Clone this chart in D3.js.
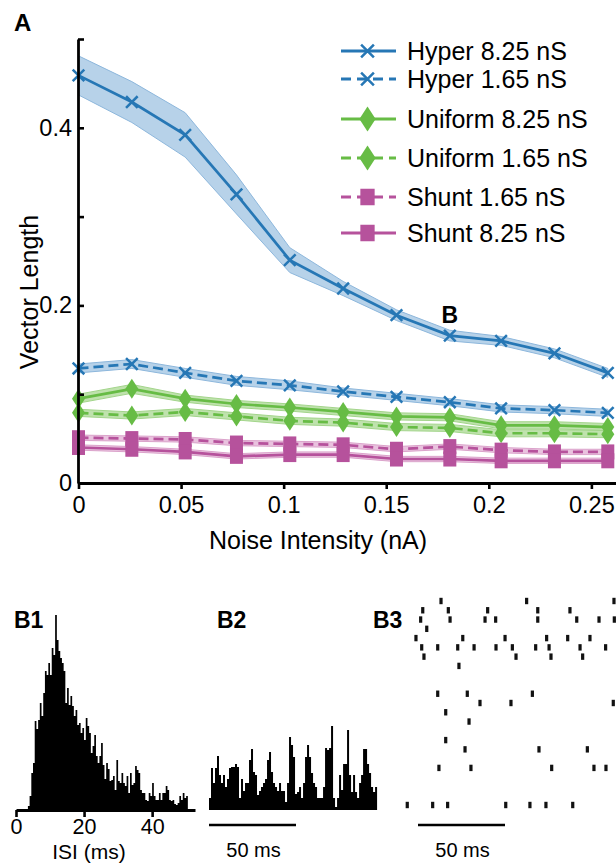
<!DOCTYPE html>
<html>
<head>
<meta charset="utf-8">
<script src="https://cdn.jsdelivr.net/npm/d3@7"></script>
<style>
  html, body { margin: 0; padding: 0; background: #fff; }
  svg { display: block; }
  text { font-family: "Liberation Sans", Arial, Helvetica, sans-serif; fill: #000; }
</style>
</head>
<body>
<svg id="fig" width="616" height="864"></svg>
<script>
// ---------- Panel A: vector strength vs noise ----------
const noise = [0, 0.026, 0.052, 0.077, 0.103, 0.129, 0.155, 0.181, 0.206, 0.232, 0.258];

const hyper825    = [0.459, 0.429, 0.392, 0.325, 0.251, 0.219, 0.189, 0.166, 0.160, 0.146, 0.124];
const hyper825Err = [0.022, 0.023, 0.025, 0.022, 0.014, 0.008, 0.006, 0.006, 0.005, 0.005, 0.005];
const hyper165    = [0.129, 0.134, 0.124, 0.115, 0.110, 0.103, 0.097, 0.091, 0.084, 0.082, 0.079];
const hyper165Err = [0.005, 0.005, 0.005, 0.005, 0.005, 0.004, 0.004, 0.004, 0.004, 0.004, 0.004];
const uniform825    = [0.095, 0.106, 0.095, 0.089, 0.085, 0.080, 0.075, 0.074, 0.065, 0.065, 0.063];
const uniform825Err = [0.005, 0.005, 0.004, 0.004, 0.004, 0.004, 0.004, 0.004, 0.004, 0.004, 0.004];
const uniform165    = [0.079, 0.076, 0.080, 0.075, 0.070, 0.068, 0.063, 0.062, 0.056, 0.056, 0.055];
const uniform165Err = [0.004, 0.004, 0.004, 0.004, 0.004, 0.004, 0.004, 0.004, 0.004, 0.004, 0.004];
const shunt165    = [0.051, 0.050, 0.049, 0.045, 0.044, 0.043, 0.038, 0.041, 0.037, 0.035, 0.035];
const shunt165Err = [0.003, 0.003, 0.003, 0.003, 0.003, 0.003, 0.003, 0.003, 0.003, 0.003, 0.003];
const shunt825    = [0.040, 0.038, 0.035, 0.030, 0.032, 0.032, 0.027, 0.027, 0.025, 0.025, 0.025];
const shunt825Err = [0.003, 0.003, 0.003, 0.003, 0.003, 0.003, 0.003, 0.003, 0.003, 0.003, 0.003];

const seriesNames = ["Hyper 8.25 nS", "Hyper 1.65 nS", "Uniform 8.25 nS", "Uniform 1.65 nS", "Shunt 1.65 nS", "Shunt 8.25 nS"];

const xTickValues = [0, 0.05, 0.1, 0.15, 0.2, 0.25];
const xTickLabels = ["0", "0.05", "0.1", "0.15", "0.2", "0.25"];
const yTickValues = [0, 0.1, 0.2, 0.3, 0.4, 0.5];
const yTickLabels = ["0", "", "0.2", "", "0.4", ""];

// ---------- Panel B1: ISI histogram (0.5 ms bins starting at 3.5 ms) ----------
const isiStart = 3.5;
const isiBin = 0.5;
const isiCounts = [3, 13, 36, 46, 88, 80, 89, 106, 93, 116, 138, 134, 146, 134, 161, 154, 194, 169, 158, 151,
  146, 138, 106, 121, 104, 113, 103, 93, 99, 84, 86, 76, 81, 69, 91, 83, 76, 56, 63, 74,
  53, 46, 53, 66, 44, 30, 46, 40, 28, 29, 33, 19, 49, 28, 26, 36, 26, 23, 33, 16,
  36, 24, 26, 43, 39, 36, 19, 16, 16, 9, 8, 16, 13, 26, 13, 9, 9, 16, 9, 16,
  16, 23, 19, 9, 8, 9, 5, 4, 6, 13, 9, 16, 11, 13];
const isiTicks = [0, 20, 40];

// ---------- Panel B2: spike-time histogram (1.15 ms bins) ----------
const psthBin = 1.15;
const psthCounts = [12, 42, 27, 42, 54, 35, 27, 35, 23, 31, 42, 43, 43, 46, 43, 12, 31, 19, 27, 27,
  50, 61, 38, 35, 15, 19, 23, 27, 31, 50, 58, 38, 27, 23, 19, 27, 19, 19, 8, 27,
  73, 65, 53, 16, 18, 23, 12, 27, 53, 65, 53, 37, 27, 23, 12, 12, 12, 23, 62, 60,
  62, 84, 12, 3, 12, 35, 20, 46, 46, 80, 35, 18, 35, 18, 12, 27, 35, 61, 61, 46,
  37, 23, 18, 23];

// ---------- Panel B3: spike raster (one row per trial, spike times in ms) ----------
const rasterTrials = [
  [20.7, 69.9, 120.1],
  [10.2, 24.9, 47.5, 76.3, 94.8],
  [9.0, 25.9, 46.0, 52.1, 76.3, 98.7, 111.5, 120.3],
  [12.5],
  [6.3, 33.2, 57.5, 81.4, 93.5, 106.3],
  [9.6, 18.8, 30.3, 39.7, 52.3, 61.7, 75.1, 82.8, 100.6, 115.3],
  [10.9, 63.8, 83.9, 102.1],
  [31.0],
  [],
  [],
  [18.8, 35.8, 73.2],
  [43.1, 60.9, 119.7],
  [23.4],
  [36.8],
  [],
  [23.4],
  [34.5, 77.0, 104.8],
  [],
  [19.5, 37.9, 84.3, 108.6, 115.5],
  [],
  [],
  [],
  [1.3, 15.9, 24.5, 57.9, 71.8, 81.0, 96.4]
];

const svg = d3.select("#fig");

const blue = "#2677b5", blueBand = "#b7d2e9", blueEdge = "#8db7dc";
const green = "#67bc45", greenBand = "#bfe2ad", greenEdge = "#a3d58b";
const pink = "#b6529c", pinkBand = "#e9c2de", pinkEdge = "#dba3cb";

const series = [
  { name: seriesNames[0], v: hyper825,   e: hyper825Err,   c: blue,  band: blueBand,  edge: blueEdge,  dash: null,  m: "x" },
  { name: seriesNames[1], v: hyper165,   e: hyper165Err,   c: blue,  band: blueBand,  edge: blueEdge,  dash: "10,5", m: "x" },
  { name: seriesNames[2], v: uniform825, e: uniform825Err, c: green, band: greenBand, edge: greenEdge, dash: null,  m: "d" },
  { name: seriesNames[3], v: uniform165, e: uniform165Err, c: green, band: greenBand, edge: greenEdge, dash: "10,5", m: "d" },
  { name: seriesNames[4], v: shunt165,   e: shunt165Err,   c: pink,  band: pinkBand,  edge: pinkEdge,  dash: "10,5", m: "s" },
  { name: seriesNames[5], v: shunt825,   e: shunt825Err,   c: pink,  band: pinkBand,  edge: pinkEdge,  dash: null,  m: "s" }
];

const x = d3.scaleLinear().domain([0, 0.262]).range([78.5, 616]);
const y = d3.scaleLinear().domain([0, 0.5]).range([483, 39]);

const gA = svg.append("g");

// confidence bands
const area = d3.area().x((d, i) => x(noise[i])).y0(d => y(d[0] - d[1])).y1(d => y(d[0] + d[1]));
const line = d3.line().x((d, i) => x(noise[i])).y(d => y(d));

series.forEach(s => {
  const pts = s.v.map((v, i) => [v, s.e[i]]);
  gA.append("path").attr("d", area(pts))
    .attr("fill", s.band).attr("stroke", s.edge).attr("stroke-width", 1);
});
series.forEach(s => {
  gA.append("path").attr("d", line(s.v))
    .attr("fill", "none").attr("stroke", s.c).attr("stroke-width", 2.7)
    .attr("stroke-dasharray", s.dash);
});

function drawMarker(g, type, cx, cy, color, scale) {
  const k = scale || 1;
  if (type === "x") {
    const r = 5.8 * k;
    g.append("path")
      .attr("d", `M${cx - r},${cy - r}L${cx + r},${cy + r}M${cx - r},${cy + r}L${cx + r},${cy - r}`)
      .attr("stroke", color).attr("stroke-width", 2.5).attr("fill", "none");
  } else if (type === "d") {
    const w = 6.5 * k, h = 10 * k;
    g.append("path")
      .attr("d", `M${cx},${cy - h}L${cx + w},${cy}L${cx},${cy + h}L${cx - w},${cy}Z`)
      .attr("fill", color);
  } else {
    const w = 13 * k, h = 15 * k;
    g.append("rect").attr("x", cx - w / 2).attr("y", cy - h / 2)
      .attr("width", w).attr("height", h).attr("fill", color);
  }
}

series.forEach(s => {
  s.v.forEach((v, i) => drawMarker(gA, s.m, x(noise[i]), y(v), s.c));
});

// axes
const yAxis = d3.axisLeft(y).tickValues(yTickValues)
  .tickFormat((d, i) => yTickLabels[i]).tickSizeInner(-6).tickSizeOuter(0).tickPadding(6);
const gy = gA.append("g").attr("transform", "translate(78,0)").call(yAxis);
gy.select(".domain").attr("stroke-width", 2.8);
gy.selectAll(".tick line").attr("stroke-width", 2.6);
gy.selectAll(".tick text").attr("font-size", 23.5).attr("font-family", "Liberation Sans, Arial, sans-serif");

const xAxis = d3.axisBottom(x).tickValues(xTickValues)
  .tickFormat((d, i) => xTickLabels[i]).tickSizeInner(6).tickSizeOuter(0).tickPadding(7);
const gx = gA.append("g").attr("transform", "translate(0,483)").call(xAxis);
gx.select(".domain").attr("stroke-width", 2.8);
gx.selectAll(".tick line").attr("stroke-width", 2.6);
gx.selectAll(".tick text").attr("font-size", 23.5).attr("font-family", "Liberation Sans, Arial, sans-serif");

gA.append("text").attr("x", 318).attr("y", 549).attr("text-anchor", "middle")
  .attr("font-size", 25).text("Noise Intensity (nA)");
gA.append("text").attr("transform", "translate(38,292) rotate(-90)").attr("text-anchor", "middle")
  .attr("font-size", 25).text("Vector Length");

// legend
const legendY = [51, 79, 119, 158, 197, 233];
const gL = svg.append("g");
series.forEach((s, i) => {
  const ly = legendY[i];
  gL.append("line").attr("x1", 341).attr("x2", 396).attr("y1", ly).attr("y2", ly)
    .attr("stroke", s.c).attr("stroke-width", 2.8).attr("stroke-dasharray", s.dash ? "10,6" : null);
  drawMarker(gL, s.m, 367.5, ly, s.c, s.m === "d" ? 1.25 : 1.1);
  gL.append("text").attr("x", 407).attr("y", ly + 9).attr("font-size", 25).text(s.name);
});

// panel letters
svg.append("text").attr("x", 14).attr("y", 31).attr("font-size", 24).attr("font-weight", "bold").text("A");
svg.append("text").attr("x", x(noise[7])).attr("y", y(hyper825[7]) - 13)
  .attr("text-anchor", "middle").attr("font-size", 23).attr("font-weight", "bold").text("B");
svg.append("text").attr("x", 14).attr("y", 628).attr("font-size", 23).attr("font-weight", "bold").text("B1");
svg.append("text").attr("x", 217).attr("y", 628).attr("font-size", 23).attr("font-weight", "bold").text("B2");
svg.append("text").attr("x", 373).attr("y", 628).attr("font-size", 23).attr("font-weight", "bold").text("B3");

// ---------- B1 ----------
const xI = d3.scaleLinear().domain([0, 52.6]).range([16, 195]);
const yI = d3.scaleLinear().domain([0, 200]).range([809, 609]);
const gB1 = svg.append("g");
const isiSteps = isiCounts.map((c, i) => [isiStart + i * isiBin, c]);
isiSteps.push([isiStart + isiCounts.length * isiBin, isiCounts[isiCounts.length - 1]]);
gB1.append("path")
  .attr("d", d3.area().curve(d3.curveStepAfter).x(d => xI(d[0])).y0(yI(0)).y1(d => yI(d[1]))(isiSteps))
  .attr("fill", "#000");
const xIAxis = d3.axisBottom(xI).tickValues(isiTicks).tickFormat(d3.format("d"))
  .tickSizeInner(7).tickSizeOuter(0).tickPadding(2);
const gxi = gB1.append("g").attr("transform", "translate(0,810)").call(xIAxis);
gxi.select(".domain").attr("stroke-width", 2.8);
gxi.selectAll(".tick line").attr("stroke-width", 2.6);
gxi.selectAll(".tick text").attr("font-size", 21.5).attr("font-family", "Liberation Sans, Arial, sans-serif");
gB1.append("text").attr("x", 89).attr("y", 859).attr("text-anchor", "middle").attr("font-size", 21).text("ISI (ms)");

// ---------- B2 ----------
const xP = d3.scaleLinear().domain([0, 50]).range([209, 296]);
const yP = d3.scaleLinear().domain([0, 100]).range([810, 710]);
const gB2 = svg.append("g");
const psthSteps = psthCounts.map((c, i) => [i * psthBin, c]);
psthSteps.push([psthCounts.length * psthBin, psthCounts[psthCounts.length - 1]]);
gB2.append("path")
  .attr("d", d3.area().curve(d3.curveStepAfter).x(d => xP(d[0])).y0(yP(0)).y1(d => yP(d[1]))(psthSteps))
  .attr("fill", "#000");
gB2.append("line").attr("x1", xP(0)).attr("x2", xP(50)).attr("y1", 825).attr("y2", 825)
  .attr("stroke", "#000").attr("stroke-width", 2.6);
gB2.append("text").attr("x", (xP(0) + xP(50)) / 2 + 1).attr("y", 857).attr("text-anchor", "middle")
  .attr("font-size", 20).text("50 ms");

// ---------- B3 ----------
const xR = d3.scaleLinear().domain([0, 50]).range([405, 492]);
const yR = d3.scaleLinear().domain([0, 22]).range([601, 805]);
const gB3 = svg.append("g");
rasterTrials.forEach((times, r) => {
  gB3.selectAll(null).data(times).join("rect")
    .attr("x", t => xR(t) - 1.6).attr("width", 3.2)
    .attr("y", yR(r) - 3.2).attr("height", 6.4)
    .attr("fill", "#111");
});
gB3.append("line").attr("x1", 418).attr("x2", 418 + (xR(50) - xR(0))).attr("y1", 825).attr("y2", 825)
  .attr("stroke", "#000").attr("stroke-width", 2.6);
gB3.append("text").attr("x", 418 + (xR(50) - xR(0)) / 2 + 1).attr("y", 857).attr("text-anchor", "middle")
  .attr("font-size", 20).text("50 ms");
</script>
</body>
</html>
